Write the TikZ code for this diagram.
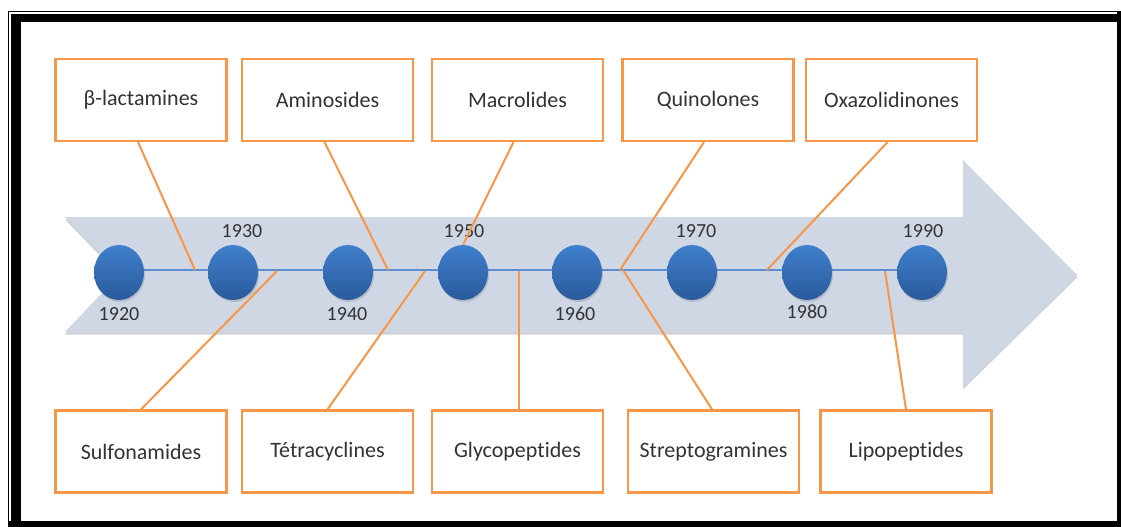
\documentclass[tikz,border=0pt]{standalone}
\usepackage{fontspec}
\setmainfont{Carlito}[Ligatures={NoCommon}]
\usetikzlibrary{shapes.geometric}
\definecolor{orng}{HTML}{F79646}
\definecolor{band}{HTML}{CFD7E5}
\definecolor{bandsh}{HTML}{AEB4BE}
\definecolor{axisblue}{HTML}{5B8ED0}
\definecolor{ctop}{HTML}{3F7FCC}
\definecolor{cbot}{HTML}{2A5A9B}
\definecolor{txt}{HTML}{333333}
\tikzset{
  classbox/.style={draw=orng, line width=2.2pt, fill=white, minimum width=171pt,
    minimum height=82pt, inner sep=0pt, text=txt, font=\fontsize{22}{26}\selectfont},
  yearcirc/.style={ellipse, minimum width=50pt, minimum height=55pt, inner sep=0pt,
    top color=ctop, bottom color=cbot, draw=none},
  yearlbl/.style={text=txt, font=\fontsize{20}{24}\selectfont, inner sep=0pt},
  link/.style={draw=orng, line width=2pt},
  axisline/.style={draw=axisblue, line width=2pt}
}
\begin{document}
\begin{tikzpicture}[x=1pt, y=-1pt]
\useasboundingbox (0,0) rectangle (1121,527);
% frame
\fill[black] (8,11) rectangle (1121,527);
\fill[white] (9.3,12.3) rectangle (1117,521);
\fill[black] (10.8,13.6) rectangle (1117,22.5);
\fill[black] (10.8,13.6) rectangle (20.5,521);
\fill[white] (20.5,22.5) rectangle (1117,521);
% band arrow
\fill[bandsh, opacity=0.6] (65,219.5) -- (963,219.5) -- (963,162.5) -- (1077,277.5) -- (963,389.5) -- (963,334.5) -- (65,334.5) -- (120,276.5) -- cycle;
\fill[band] (65,217) -- (963,217) -- (963,160) -- (1077,275) -- (963,387) -- (963,332) -- (65,332) -- (120,274) -- cycle;
% circles
\foreach \i/\x in {1/119,2/233,3/348,4/463,5/577,6/692,7/807,8/922}{
  \coordinate (a\i) at (\x,270);
}
\draw[axisline] (a1) -- (a8);
\foreach \i/\x in {1/119,2/233,3/348,4/463,5/577,6/692,7/807,8/922}{
  \fill[black, opacity=0.12] (\x+1,274.5) ellipse (25 and 27.5);
  \node[yearcirc] (c\i) at (\x,272.5) {};
}
% year labels
\node[yearlbl] (y1) at (119,314) {1920};
\node[yearlbl] (y2) at (242,231) {1930};
\node[yearlbl] (y3) at (347,314) {1940};
\node[yearlbl] (y4) at (464,231) {1950};
\node[yearlbl] (y5) at (575,314) {1960};
\node[yearlbl] (y6) at (696,231) {1970};
\node[yearlbl] (y7) at (807,312) {1980};
\node[yearlbl] (y8) at (923,231) {1990};
% axis attachment points
\coordinate (p1) at (195,270);
\coordinate (p2) at (388,270);
\coordinate (p4) at (620,270);
\coordinate (p5) at (767,270);
\coordinate (q1) at (277,271);
\coordinate (q2) at (425,271);
\coordinate (q3) at (519,271);
\coordinate (q4) at (623,270);
\coordinate (q5) at (885,271);
% boxes top
\node[classbox] (t1) at (141,100) {β-lactamines};
\node[classbox] (t2) at (327.5,100) {Aminosides};
\node[classbox] (t3) at (517.5,100) {Macrolides};
\node[classbox] (t4) at (708,100) {Quinolones};
\node[classbox] (t5) at (891.5,100) {Oxazolidinones};
% boxes bottom
\node[classbox] (u1) at (141,451.5) {Sulfonamides};
\node[classbox] (u2) at (327.5,451.5) {Tétracyclines};
\node[classbox] (u3) at (517.5,451.5) {Glycopeptides};
\node[classbox] (u4) at (713.5,451.5) {Streptogramines};
\node[classbox] (u5) at (906,451.5) {Lipopeptides};
% connectors
\draw[link] ([xshift=-3pt]t1.south) -- (p1);
\draw[link] ([xshift=-3pt]t2.south) -- (p2);
\draw[link] ([xshift=-4pt]t3.south) -- (c4.north);
\draw[link] ([xshift=-4pt]t4.south) -- (p4);
\draw[link] ([xshift=-4pt]t5.south) -- (p5);
\draw[link] (u1.north) -- (q1);
\draw[link] (u2.north) -- (q2);
\draw[link] ([xshift=1.5pt]u3.north) -- (q3);
\draw[link] ([xshift=-1.5pt]u4.north) -- (q4);
\draw[link] (u5.north) -- (q5);
\end{tikzpicture}
\end{document}
